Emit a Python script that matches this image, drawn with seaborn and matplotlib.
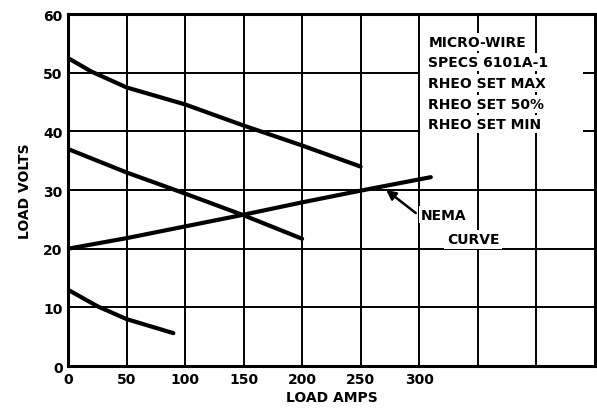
import matplotlib
matplotlib.use("Agg")
import matplotlib.pyplot as plt
import seaborn as sns
import pandas as pd

# Data
max_amps = [0, 20, 50, 100, 150, 200, 250]
max_volts = [52.5, 50.2, 47.5, 44.6, 41.0, 37.6, 34.0]
mid_amps = [0, 25, 50, 100, 150, 200]
mid_volts = [37.0, 35.0, 33.0, 29.4, 25.7, 21.7]
nema_amps = [0, 50, 100, 150, 200, 250, 310]
nema_volts = [20.0, 21.8, 23.8, 25.8, 27.9, 29.9, 32.2]
min_amps = [0, 25, 50, 90]
min_volts = [13.0, 10.2, 8.0, 5.6]

x_ticks = [0, 50, 100, 150, 200, 250, 300]
x_ticklabels = ["0", "50", "100", "150", "200", "250", "300"]
y_ticks = [0, 10, 20, 30, 40, 50, 60]
legend_lines = ["MICRO-WIRE", "SPECS 6101A-1", "RHEO SET MAX", "RHEO SET 50%", "RHEO SET MIN"]

frames = []
for name, xs, ys in [("max", max_amps, max_volts), ("mid", mid_amps, mid_volts),
                     ("nema", nema_amps, nema_volts), ("min", min_amps, min_volts)]:
    frames.append(pd.DataFrame({"amps": xs, "volts": ys, "series": name}))
df = pd.concat(frames, ignore_index=True)

sns.set_theme(style="white")
plt.rcParams["font.family"] = ["DejaVu Sans"]
plt.rcParams["font.weight"] = "bold"
plt.rcParams["text.color"] = "black"
plt.rcParams["axes.labelcolor"] = "black"
plt.rcParams["xtick.color"] = "black"
plt.rcParams["ytick.color"] = "black"

fig = plt.figure(figsize=(5.97, 4.14), dpi=100)
ax = fig.add_axes([0.114, 0.1135, 0.884, 0.850])

sns.lineplot(data=df, x="amps", y="volts", units="series", estimator=None,
             color="black", linewidth=3.0, ax=ax, sort=False)

ax.set_xlim(0, 451)
ax.set_ylim(0, 60)
for gx in range(50, 451, 50):
    ax.axvline(gx, color="black", lw=1.4, zorder=1)
for gy in [10, 20, 30]:
    ax.axhline(gy, color="black", lw=1.4, zorder=1)
for gy in [40, 50]:
    ax.hlines(gy, 0, 300, color="black", lw=1.4, zorder=1)
    ax.hlines(gy, 440, 451, color="black", lw=1.4, zorder=1)

ax.set_xticks(x_ticks)
ax.set_xticklabels(x_ticklabels, fontsize=10, fontweight="bold")
ax.set_yticks(y_ticks)
ax.set_yticklabels([str(v) for v in y_ticks], fontsize=10, fontweight="bold")
ax.tick_params(length=0, pad=4)
ax.set_xlabel("LOAD AMPS", fontsize=10, fontweight="bold", labelpad=3)
ax.set_ylabel("LOAD VOLTS", fontsize=10, fontweight="bold", labelpad=8)
for s in ax.spines.values():
    s.set_color("black")
    s.set_linewidth(2.2)

# Legend text block
ys_txt = [55.3, 51.8, 48.2, 44.7, 41.2]
for t, yv in zip(legend_lines, ys_txt):
    ax.text(308, yv, t, fontsize=10, fontweight="bold", va="center", ha="left",
            bbox=dict(facecolor="white", edgecolor="none", pad=1.5), zorder=5)

# NEMA annotation
ax.annotate("", xy=(270, 30.3), xytext=(299, 25.8),
            arrowprops=dict(arrowstyle="-|>", color="black", lw=1.8, mutation_scale=14),
            zorder=6)
ax.text(301, 25.8, "NEMA", fontsize=10, fontweight="bold", va="center", ha="left",
        bbox=dict(facecolor="white", edgecolor="none", pad=1), zorder=5)
ax.text(324, 21.6, "CURVE", fontsize=10, fontweight="bold", va="center", ha="left",
        bbox=dict(facecolor="white", edgecolor="none", pad=2), zorder=5)

fig.savefig("out.png", dpi=100)
